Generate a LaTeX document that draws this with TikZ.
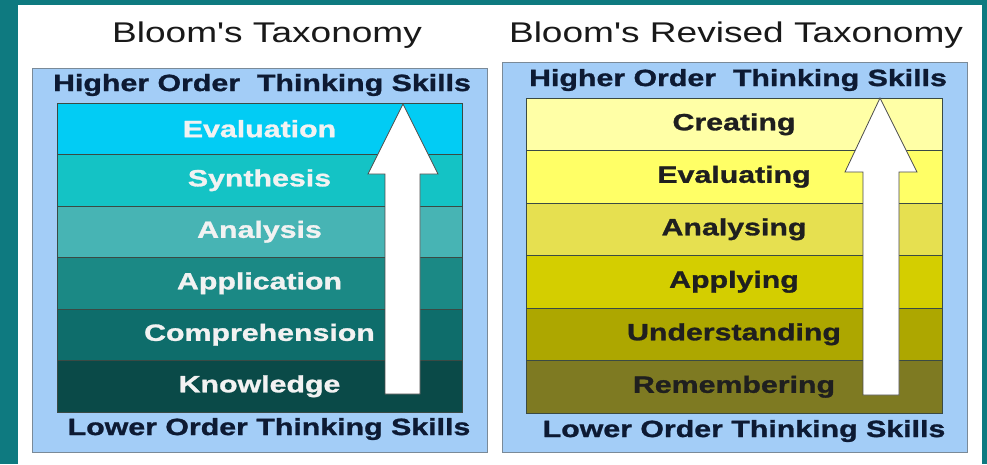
\documentclass[tikz,border=0pt]{standalone}
\usepackage{fontspec}
\setmainfont{Liberation Sans}
\newfontfamily\widesans[FakeStretch=1.3]{Liberation Sans}
\newfontfamily\widebold[FakeStretch=1.29, FakeBold=1.2]{Liberation Sans Bold}
\usepackage{xcolor}
\usetikzlibrary{positioning}
\definecolor{bgteal}{HTML}{0E7A80}
\definecolor{panelblue}{HTML}{A3CDF7}
\definecolor{panelline}{HTML}{7A8A98}
\definecolor{rowline}{HTML}{3A4A44}
\definecolor{skillnavy}{HTML}{0D1A33}
\definecolor{evalcol}{HTML}{02CCF4}
\definecolor{synthcol}{HTML}{14C3C5}
\definecolor{analcol}{HTML}{47B4B4}
\definecolor{applcol}{HTML}{1B8985}
\definecolor{compcol}{HTML}{0E6D6B}
\definecolor{knowcol}{HTML}{0A4A48}
\definecolor{creatcol}{HTML}{FFFFA6}
\definecolor{evalgcol}{HTML}{FFFF66}
\definecolor{analgcol}{HTML}{E6E050}
\definecolor{applgcol}{HTML}{D4CE00}
\definecolor{undercol}{HTML}{ADA700}
\definecolor{rememcol}{HTML}{7E7A22}
\newcommand{\titlefont}{\widesans\fontsize{28.5}{30}\selectfont}
\newcommand{\skillfont}{\widebold\fontsize{23.5}{26}\selectfont}

\begin{document}
\begin{tikzpicture}[x=1pt, y=-1pt,
    panel/.style={draw=panelline, fill=panelblue, line width=0.8pt},
    oldlvl/.style={draw=rowline, line width=0.8pt, outer sep=0pt, minimum width=405pt, minimum height=51.5pt, inner sep=0pt, font=\skillfont, text=white!95!black},
    newlvl/.style={draw=rowline, line width=0.8pt, outer sep=0pt, minimum width=416pt, minimum height=52.5pt, inner sep=0pt, font=\skillfont, text=black!88},
    skills/.style={font=\skillfont, text=skillnavy},
    upper/.style={draw=black!70, fill=white, line width=0.8pt, line join=miter}]
    \useasboundingbox (0,0) rectangle (987,464);
    \fill[bgteal] (0,0) rectangle (987,464);
    \fill[white] (18,5) rectangle (982,464);

    % old taxonomy
    \node[font=\titlefont, text=black!90] (oldtitle) at (267,35) {Bloom's Taxonomy};
    \draw[panel] (32,68) rectangle (487,452);
    \node[skills] (oldhigh) at (262,85) {Higher Order~~Thinking Skills};
    \node[oldlvl, fill=evalcol] (evaluation) at (259.5,128.75) {Evaluation};
    \node[oldlvl, fill=synthcol, below=0pt of evaluation] (synthesis) {Synthesis};
    \node[oldlvl, fill=analcol, below=0pt of synthesis] (analysis) {Analysis};
    \node[oldlvl, fill=applcol, below=0pt of analysis] (application) {Application};
    \node[oldlvl, fill=compcol, below=0pt of application] (comprehension) {Comprehension};
    \node[oldlvl, fill=knowcol, below=0pt of comprehension] (knowledge) {Knowledge};
    \node[skills] (oldlow) at (269,429) {Lower Order Thinking Skills};
    \draw[upper] (385,394) -- (385,174) -- (368,174) -- (403,104) -- (438,174) -- (420,174) -- (420,394) -- cycle;

    % revised taxonomy
    \node[font=\titlefont, text=black!90] (newtitle) at (736,35) {Bloom's Revised Taxonomy};
    \draw[panel] (502,62) rectangle (967,452);
    \node[skills] (newhigh) at (738,80) {Higher Order~~Thinking Skills};
    \node[newlvl, fill=creatcol] (creating) at (734,124.25) {Creating};
    \node[newlvl, fill=evalgcol, below=0pt of creating] (evaluating) {Evaluating};
    \node[newlvl, fill=analgcol, below=0pt of evaluating] (analysing) {Analysing};
    \node[newlvl, fill=applgcol, below=0pt of analysing] (applying) {Applying};
    \node[newlvl, fill=undercol, below=0pt of applying] (understanding) {Understanding};
    \node[newlvl, fill=rememcol, below=0pt of understanding] (remembering) {Remembering};
    \node[skills] (newlow) at (744,431) {Lower Order Thinking Skills};
    \draw[upper] (863,395) -- (863,172) -- (845,172) -- (880,98) -- (917,172) -- (899,172) -- (899,395) -- cycle;
\end{tikzpicture}
\end{document}
